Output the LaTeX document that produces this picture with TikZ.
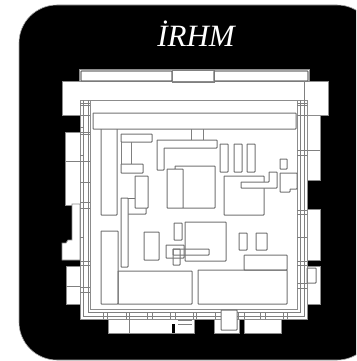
\documentclass[tikz,border=0pt]{standalone}
\usepackage{fontspec}
\setmainfont{Liberation Serif}
\tikzset{
    plate/.style ={
        draw=gray!70,
        fill=black,
        line width=0.6pt,
        rounded corners=38pt
    },
    block/.style ={
        draw=black!45,
        fill=white,
        line width=0.8pt
    },
    part/.style ={
        draw=black!55,
        line width=1pt,
        rounded corners=0.7pt
    },
    wire/.style ={
        draw=black!50,
        line width=0.75pt
    },
    heading/.style ={
        text=white,
        font=\itshape\fontsize{31}{31}\selectfont
    }
}

\begin{document}
\begin{tikzpicture}[x=1pt,y=-1pt]
    \useasboundingbox (0,0) rectangle (356,361);
    \clip (0,0) rectangle (356,361);
    \fill[white] (0,0) rectangle (356,361);
    \draw[plate] (19,5) rectangle (375,360);
    \node[heading] (title) at (196,34) {İRHM};
    % outer blocks
    \draw[block] (79,69) rectangle (309,82);
    \draw[block] (62,81) rectangle (328,115);
    \draw[block] (65,132) rectangle (80,205);
    \draw[block] (80,204) -- (72,204) -- (72,240) -- (68,240) -- (66,243) -- (62,243) -- (62,260) -- (80,260) -- cycle;
    \draw[block] (66,266) rectangle (80,304);
    \draw[block] (307,115) rectangle (320,180);
    \draw[block] (307,209) rectangle (320,260);
    \draw[block] (307,266) rectangle (320,304);
    \draw[block] (108,318) rectangle (194,333);
    \draw[block] (214,318) rectangle (239,333);
    \draw[block] (244,318) rectangle (281,333);
    \fill[black] (172,324) rectangle (175,333);
    % top strips
    \draw[part,line width=1.3pt] (81,71) rectangle (172,81);
    \draw[wire] (172,70) rectangle (214,82);
    \draw[part,line width=1.3pt] (214,71) rectangle (308,81);
    % frame
    \draw[block] (80,100) rectangle (307,319);
    \draw[wire] (83,100) -- (83,316) -- (304,316) -- (304,81);
    \draw[wire] (88,100) -- (88,312) -- (300,312) -- (300,100);
    \draw[block] (90,100) rectangle (297,309);
    \draw[part,fill=white] (93,113) rectangle (296,129);
    \foreach \ya in {103,105,115,132,134,161,182,202,208,261,265,287,292} {
        \draw[wire] (80,\ya) -- (90,\ya);
    }
    \foreach \ya in {127,155,237} {
        \draw[wire] (80,\ya) -- (83,\ya);
    }
    \foreach \ya in {103,105,115,150,155,210,214,237,261,265,283,288} {
        \draw[wire] (297,\ya) -- (307,\ya);
    }
    \foreach \xa in {103,107,126,147,152,170,175,193,196,215,221,238,244,260,265,283,287} {
        \draw[wire] (\xa,312) -- (\xa,319);
    }
    \foreach \ya in {161,286} {
        \draw[wire] (66,\ya) -- (80,\ya);
    }
    \draw[wire] (129,312) -- (129,333);
    \draw[wire] (178,320) -- (192,320);
    \draw[wire] (178,324) -- (192,324);
    \draw[part,fill=white] (221,310) rectangle (237,330);
    \draw[part] (307,268) rectangle (316,283);
    \draw[wire] (307,150) -- (320,150);
    % left column
    \draw[part] (101,129) -- (101,215) -- (117,215) -- (117,129);
    \draw[part] (121,134) rectangle (152,142);
    \draw[wire] (121,142) -- (121,164);
    \draw[wire] (131,142) -- (131,164);
    \draw[part] (121,164) rectangle (143,173);
    \draw[part] (135,176) rectangle (148,208);
    \draw[part] (128,198) -- (135,198);
    \draw[part] (128,214) -- (146,214) -- (146,208);
    \draw[part,fill=white] (121,198) rectangle (128,267);
    \draw[part] (101,231) rectangle (118,304);
    \draw[part] (118,271) rectangle (192,304);
    \draw[part] (144,232) rectangle (159,260);
    % centre
    \draw[wire] (191,129) -- (191,140);
    \draw[wire] (203,129) -- (203,140);
    \draw[part] (157,140) -- (217,140) -- (217,148) -- (164,148) -- (164,170) -- (157,170) -- cycle;
    \draw[part] (175,169) -- (175,166) -- (215,166) -- (215,208) -- (167,208) -- (167,169) -- (183,169) -- (183,208);
    \foreach \xa in {220,234,247} {
        \draw[part] (\xa,144) rectangle (\xa+8,172);
    }
    \draw[part] (224,176) rectangle (264,215);
    \draw[part,fill=white] (241,182) -- (269,182) -- (269,172) -- (277,172) -- (277,188) -- (241,188) -- cycle;
    \draw[part] (280,159) rectangle (287,169);
    \draw[part,fill=white] (280,173) -- (297,173) -- (297,189) -- (290,189) -- (290,192) -- (280,192) -- cycle;
    % lower middle
    \draw[part] (174,223) rectangle (182,240);
    \draw[part] (185,222) rectangle (226,261);
    \draw[part] (166,245) rectangle (184,258);
    \draw[part] (173,249) rectangle (180,265);
    \draw[part] (173,249) rectangle (209,255);
    % lower right
    \draw[part] (239,233) rectangle (247,250);
    \draw[part] (256,233) rectangle (267,250);
    \draw[part] (244,255) rectangle (287,270);
    \draw[part] (198,270) rectangle (287,304);
\end{tikzpicture}
\end{document}
